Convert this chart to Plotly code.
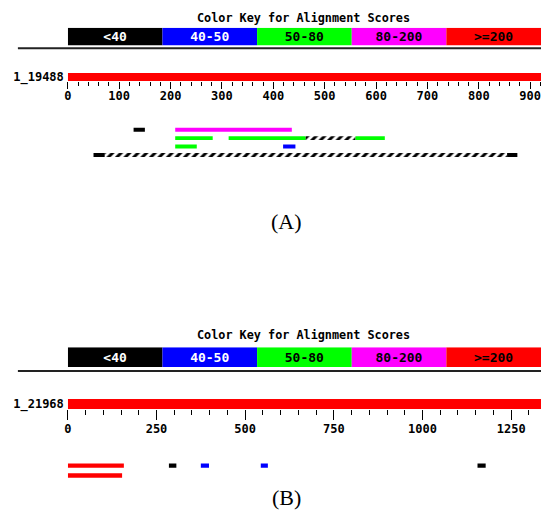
import plotly.graph_objects as go

W, H = 541, 514

# ---------------- data ----------------
key_labels = ["<40", "40-50", "50-80", "80-200", ">=200"]
key_colors = ["#000000", "#0000ff", "#00ff00", "#ff00ff", "#ff0000"]
key_text_colors = ["#ffffff", "#ffffff", "#000000", "#000000", "#000000"]

# Panel A
query_a_name = "1_19488"
query_a_len = 921
hits_a_row = [1, 1, 2, 2, 2, 2, 3, 3, 4, 4, 4]
hits_a_start = [128, 209, 209, 313, 463, 560, 209, 419, 50, 72, 855]
hits_a_end = [150, 436, 282, 463, 560, 617, 251, 443, 72, 855, 875]
hits_a_kind = ["<40", "80-200", "50-80", "50-80", "gap", "50-80", "50-80", "40-50", "<40", "gap", "<40"]

# Panel B
query_b_name = "1_21968"
query_b_len = 1334
hits_b_row = [1, 2, 1, 1, 1, 1]
hits_b_start = [0, 0, 285, 375, 544, 1155]
hits_b_end = [158, 153, 306, 398, 564, 1178]
hits_b_kind = [">=200", ">=200", "<40", "40-50", "40-50", "<40"]

panel_labels = ["(A)", "(B)"]
key_title = "Color Key for Alignment Scores"

# ---------------- helpers ----------------
def py(px):
    return 1 - px / H

def dom(top_px, bot_px):
    return [py(bot_px), py(top_px)]

XDOM = [64.3 / W, 1.0]
MONO = "DejaVu Sans Mono"
color_of = dict(zip(key_labels, key_colors))

fig = go.Figure()

def add_key(xa, ya):
    for i, (lab, col, tc) in enumerate(zip(key_labels, key_colors, key_text_colors)):
        fig.add_trace(go.Bar(
            orientation="h", y=[0], x=[1], base=[i], width=[1],
            marker=dict(color=col, line=dict(width=0)),
            text=[lab], textposition="inside", insidetextanchor="middle",
            constraintext="none",
            textfont=dict(family=MONO, size=13, color=tc, weight="bold"),
            xaxis=xa, yaxis=ya, showlegend=False, hoverinfo="skip"))

def add_query(length, xa, ya):
    fig.add_trace(go.Bar(
        orientation="h", y=[0], x=[length], base=[0], width=[1],
        marker=dict(color="#ff0000", line=dict(width=0)),
        xaxis=xa, yaxis=ya, showlegend=False, hoverinfo="skip"))

def add_hits(rows, starts, ends, kinds, thick, xa, ya):
    for r, s, e, k in zip(rows, starts, ends, kinds):
        if k == "gap":
            marker = dict(color="white", line=dict(width=0),
                          pattern=dict(shape="/", fgcolor="black", bgcolor="white",
                                       size=6, solidity=0.5, fgopacity=1))
        else:
            marker = dict(color=color_of[k], line=dict(width=0))
        fig.add_trace(go.Bar(
            orientation="h", y=[r], x=[e - s], base=[s], width=[thick],
            marker=marker, xaxis=xa, yaxis=ya, showlegend=False, hoverinfo="skip"))

# Panel A
add_key("x3", "y3")
add_query(query_a_len, "x", "y")
add_hits(hits_a_row, hits_a_start, hits_a_end, hits_a_kind, 0.47, "x", "y2")
# Panel B
add_key("x6", "y6")
add_query(query_b_len, "x4", "y4")
add_hits(hits_b_row, hits_b_start, hits_b_end, hits_b_kind, 0.45, "x4", "y5")

tickfont = dict(family=MONO, size=12, color="black", weight="bold")
hidden = dict(visible=False, showgrid=False, zeroline=False, fixedrange=True)

def qx(length, dtick, minor_dtick, tl, mtl, anchor, standoff):
    return dict(domain=XDOM, range=[0, length], anchor=anchor, showgrid=False,
                zeroline=False, showline=False, ticks="outside", tickcolor="black",
                ticklen=tl, tickwidth=1, dtick=dtick, tick0=0, tickfont=tickfont,
                minor=dict(ticks="outside", ticklen=mtl, dtick=minor_dtick,
                           tickcolor="black", tickwidth=1, showgrid=False),
                ticklabelstandoff=standoff, ticklabeloverflow="allow")

def qy(name, d, anchor):
    return dict(domain=d, range=[-0.5, 0.5], anchor=anchor, showgrid=False,
                zeroline=False, showline=False, tickvals=[0], ticktext=[name],
                ticks="", tickfont=tickfont, ticklabelstandoff=3)

fig.update_layout(
    width=W, height=H, margin=dict(l=0, r=0, t=0, b=0),
    paper_bgcolor="white", plot_bgcolor="rgba(0,0,0,0)",
    barmode="overlay", showlegend=False,
    xaxis=qx(query_a_len, 100, 20, 7, 4, "y", -3),
    yaxis=qy(query_a_name, dom(71, 79), "x"),
    yaxis2=dict(domain=dom(120, 162.5), range=[5, 0], anchor="x", **hidden),
    xaxis3=dict(domain=XDOM, range=[0, 5], anchor="y3", **hidden),
    yaxis3=dict(domain=dom(25, 43), range=[-0.5, 0.5], anchor="x3", **hidden),
    xaxis4=qx(query_b_len, 250, 50, 10, 5, "y4", -1),
    yaxis4=qy(query_b_name, dom(401.5, 411.5), "x4"),
    yaxis5=dict(domain=dom(459, 489), range=[3, 0], anchor="x4", **hidden),
    xaxis6=dict(domain=XDOM, range=[0, 5], anchor="y6", **hidden),
    yaxis6=dict(domain=dom(349, 369), range=[-0.5, 0.5], anchor="x6", **hidden),
)

# separators
for ypx in (46, 373):
    fig.add_shape(type="line", xref="paper", yref="paper",
                  x0=14 / W, x1=1, y0=py(ypx), y1=py(ypx),
                  line=dict(color="#222222", width=2))

# key titles
for ypx in (15, 337):
    fig.add_annotation(text=key_title, xref="paper", yref="paper",
                       x=302 / W, y=py(ypx), showarrow=False,
                       xanchor="center", yanchor="middle",
                       font=dict(family=MONO, size=11.8, color="black", weight="bold"))

# panel labels
for lab, ypx in zip(panel_labels, (222, 501)):
    fig.add_annotation(text=lab, xref="paper", yref="paper",
                       x=284.5 / W, y=py(ypx), showarrow=False,
                       xanchor="center", yanchor="middle",
                       font=dict(family="Liberation Serif", size=22, color="black"))

fig.write_html("out.html", config={"displayModeBar": False},
               post_script="document.body.style.margin='0';document.body.style.overflow='hidden';")
